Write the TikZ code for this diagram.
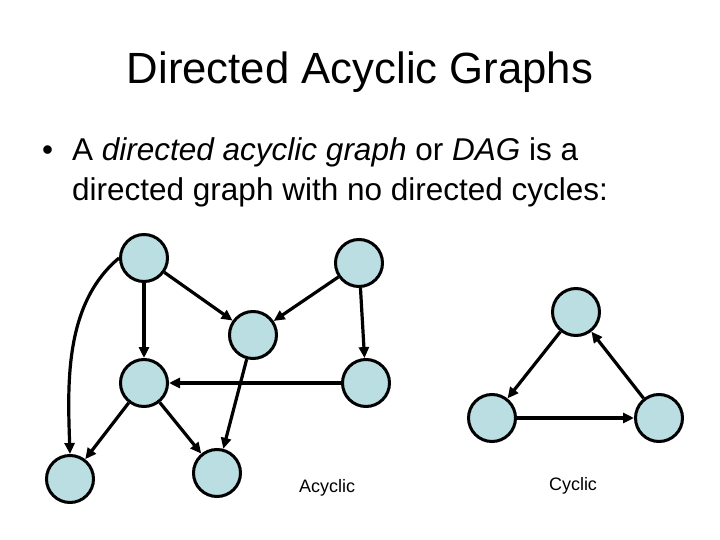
\documentclass[tikz,border=0pt]{standalone}
\usepackage{fontspec}
\setmainfont{Liberation Sans}
\usetikzlibrary{arrows.meta}
\definecolor{vfill}{RGB}{186,222,226}

\begin{document}
\begin{tikzpicture}[x=1pt,y=-1pt,
  vtx/.style={circle,draw,line width=3pt,fill=vfill,minimum size=47pt,inner sep=0pt},
  arr/.style={-{Triangle[length=11pt,width=10pt]},line width=3.2pt},
  lbl/.style={font=\fontsize{18}{20}\selectfont,anchor=base},
  txt/.style={font=\fontsize{31.5}{36}\selectfont,anchor=base west,inner sep=0pt}]
  \useasboundingbox (0,0) rectangle (720,540);
  % title and bullet text
  \node[font=\fontsize{43.7}{50}\selectfont,anchor=base,inner sep=0pt] (T) at (360,84) {Directed Acyclic Graphs};
  \node[txt] (bul) at (42,161) {\textbullet};
  \node[txt] (L1) at (72,161) {A \textit{directed acyclic graph} or \textit{DAG} is a};
  \node[txt] (L2) at (72,201) {directed graph with no directed cycles:};
  % acyclic graph
  \node[vtx] (a) at (144,258) {};
  \node[vtx] (b) at (359,263) {};
  \node[vtx] (c) at (253,335) {};
  \node[vtx] (d) at (144,383) {};
  \node[vtx] (e) at (366,383) {};
  \node[vtx] (f) at (70,479) {};
  \node[vtx] (g) at (217,473) {};
  \node[lbl] (acy) at (327,492) {Acyclic};
  \draw[arr] (a) -- (c); \draw[arr] (b) -- (c);
  \draw[arr] (a) -- (d); \draw[arr] (b) -- (e);
  \draw[arr] (e) -- (d); \draw[arr] (c) -- (g);
  \draw[arr] (d) -- (f); \draw[arr] (d) -- (g);
  \draw[arr] (a.west) to[out=220,in=92,looseness=0.9] (f.north);
  % cyclic graph
  \node[vtx] (p) at (576,312) {};
  \node[vtx] (q) at (492,418) {};
  \node[vtx] (r) at (659,418) {};
  \node[lbl] (cyc) at (573,490) {Cyclic};
  \draw[arr] (p) -- (q); \draw[arr] (q) -- (r); \draw[arr] (r) -- (p);
\end{tikzpicture}
\end{document}
